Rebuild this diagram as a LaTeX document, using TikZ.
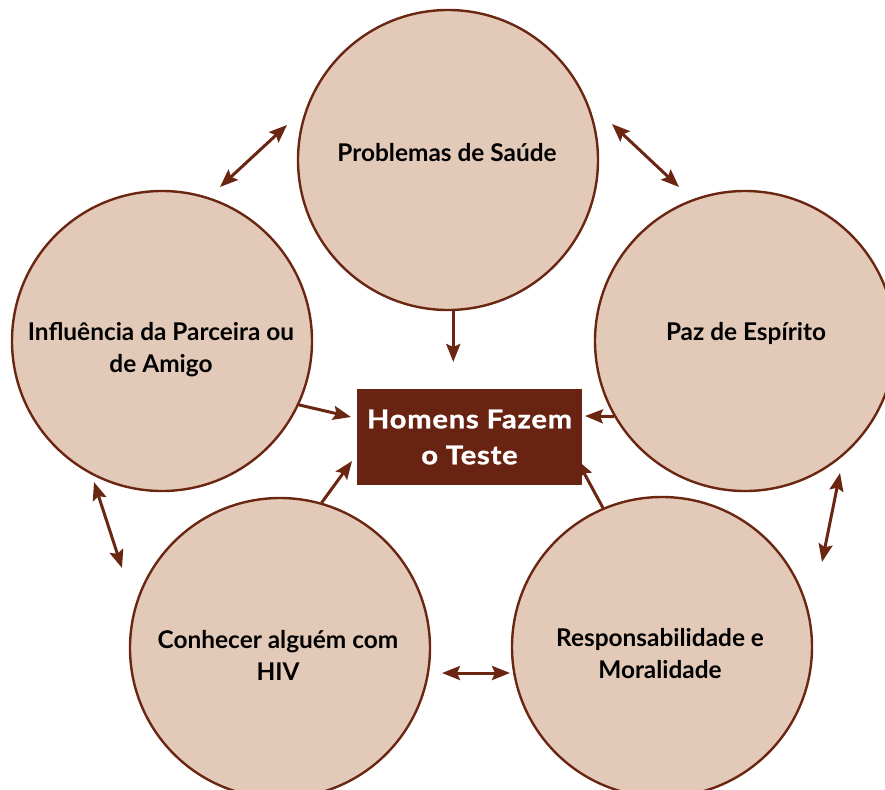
\documentclass[tikz,border=0pt]{standalone}
\usepackage{fontspec}
\setmainfont{Lato}
\newfontfamily\boxfont[FakeStretch=1.12,LetterSpace=3,FakeBold=1.2]{Lato}
\usetikzlibrary{arrows.meta}
\definecolor{circfill}{RGB}{227,202,184}
\definecolor{brownline}{RGB}{107,38,18}
\definecolor{boxfill}{RGB}{105,35,18}
\tikzset{
  circ/.style={circle, draw=brownline, line width=2.4pt, fill=circfill, minimum size=300pt, inner sep=0pt},
  lab/.style={font=\bfseries\fontsize{24.4}{32}\selectfont, align=center, text=black, inner sep=0pt},
  centerbox/.style={rectangle, fill=boxfill, minimum width=225pt, minimum height=96pt, inner sep=0pt,
     font=\boxfont\bfseries\fontsize{26}{36}\selectfont, text=white, align=center},
  conn/.style={draw=brownline, line width=3pt, -{Stealth[length=18pt,width=14pt,inset=3pt]}},
  dconn/.style={draw=brownline, line width=3pt, {Stealth[length=18pt,width=14pt,inset=3pt]}-{Stealth[length=18pt,width=14pt,inset=3pt]}}
}
\begin{document}
\begin{tikzpicture}[x=1pt,y=-1pt]
\useasboundingbox (0,0) rectangle (885,789);
\clip (0,0) rectangle (885,789);
% circles
\node[circ] (top) at (448,160) {};
\node[circ] (left) at (162,341) {};
\node[circ] (right) at (745,341) {};
\node[circ] (bl) at (280,648) {};
\node[circ] (br) at (662,647) {};
% labels
\node[lab] (topT) at (447,153) {Problemas de Saúde};
\node[lab] (leftT) at (161,350) {Influência da Parceira ou\\de Amigo};
\node[lab] (rightT) at (746,333) {Paz de Espírito};
\node[lab] (blT) at (278,655) {Conhecer alguém com\\HIV};
\node[lab] (brT) at (660,654) {Responsabilidade e\\Moralidade};
% coordinates for free arrow ends
\coordinate (tipTop) at (454,362);
\coordinate (tipLeft) at (351,417);
\coordinate (tipRight) at (585,416);
\coordinate (tipBL) at (352,461);
\coordinate (tipBR) at (577,460);
\coordinate (a1s) at (220,187);
\coordinate (a1e) at (287,125);
\coordinate (a2s) at (612,124);
\coordinate (a2e) at (679,187);
\coordinate (a3s) at (840,473);
\coordinate (a3e) at (822,562);
\coordinate (a4s) at (94,482);
\coordinate (a4e) at (122,568);
\coordinate (a5s) at (442,673);
\coordinate (a5e) at (510,673);
% arrows into the box
\draw[conn] (top.-88) -- (top.-88 |- tipTop);
\draw[conn] (left.-25) -- (tipLeft);
\draw[conn] (right.210) -- (tipRight);
\draw[conn] (bl.74) -- (tipBL);
\draw[conn] (br.113) -- (tipBR);
% double arrows
\draw[dconn] (a1s) -- (a1e);
\draw[dconn] (a2s) -- (a2e);
\draw[dconn] (a3s) -- (a3e);
\draw[dconn] (a4s) -- (a4e);
\draw[dconn] (a5s) -- (a5e);
% central box
\node[centerbox] (box) at (469.5,437) {Homens Fazem\\o Teste};
\end{tikzpicture}
\end{document}
